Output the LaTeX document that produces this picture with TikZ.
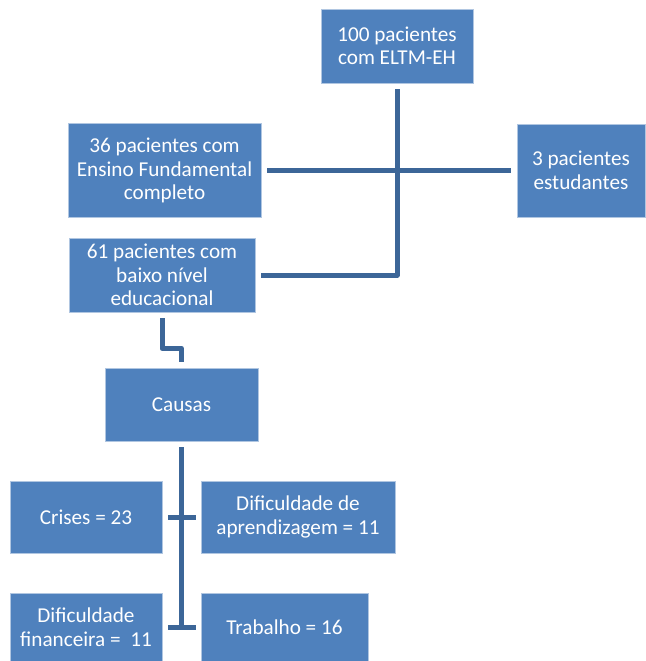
\documentclass[tikz,border=0pt]{standalone}
\usepackage{fontspec}
\setmainfont{Carlito}
\definecolor{boxblue}{RGB}{79,129,189}
\definecolor{lineblue}{RGB}{60,102,152}

\begin{document}
\begin{tikzpicture}[x=1pt,y=-1pt,
    category/.style ={rectangle, fill=boxblue, draw=white!55!boxblue, line width=0.8pt,
                      text=white, align=center, inner sep=2pt,
                      font=\fontsize{21.2}{23.5}\selectfont},
    connection/.style ={draw=lineblue, line width=5pt, line join=round,
                        shorten <=6pt, shorten >=6pt}]
   \useasboundingbox (0,0) rectangle (645,661);
   \node[category, minimum width=152pt, minimum height=74pt] (total) at (397,46) {100 pacientes\\com ELTM-EH};
   \node[category, minimum width=193pt, minimum height=94pt] (fund) at (164.5,170.5) {36 pacientes com\\Ensino Fundamental\\completo};
   \node[category, minimum width=128pt, minimum height=93pt] (estud) at (581,170.5) {3 pacientes\\estudantes};
   \node[category, minimum width=186pt, minimum height=74pt] (baixo) at (162,275) {61 pacientes com\\baixo nível\\educacional};
   \node[category, minimum width=153pt, minimum height=73pt] (causas) at (181.5,404.5) {Causas};
   \node[category, minimum width=152pt, minimum height=72pt] (crises) at (86,517) {Crises = 23};
   \node[category, minimum width=194pt, minimum height=72pt] (aprend) at (298,517) {Dificuldade de\\aprendizagem = 11};
   \node[category, minimum width=152pt, minimum height=68pt] (financ) at (86,627) {Dificuldade\\financeira = \ 11};
   \node[category, minimum width=167pt, minimum height=68pt] (trab) at (284.5,627) {Trabalho = 16};

   \draw[connection] (fund) to (estud);
   \draw[connection] (total) |- (baixo);
   \draw[connection] (baixo.south) -- ++(0,36) -| (causas.north);
   \draw[connection, shorten >=0pt] (causas.south) -- (causas.south |- financ.east);
   \draw[connection, shorten >=5pt] (crises) to (aprend);
   \draw[connection, shorten >=5pt] (financ) to (trab);
 \end{tikzpicture}
\end{document}
